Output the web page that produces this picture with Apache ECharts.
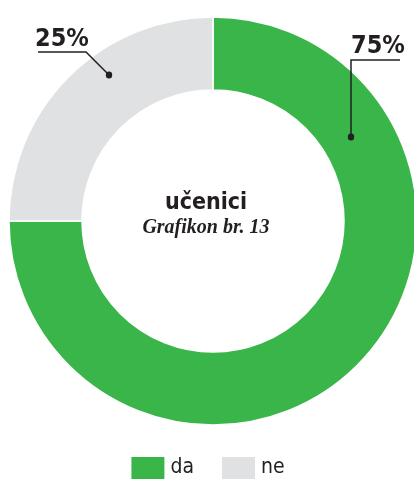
<!DOCTYPE html>
<html>
<head>
<meta charset="utf-8">
<script src="https://cdn.jsdelivr.net/npm/echarts@6/dist/echarts.min.js"></script>
<style>
  html, body { margin: 0; padding: 0; background: #fff; }
  #chart { width: 414px; height: 480px; }
</style>
</head>
<body>
<div id="chart"></div>
<script>
// podaci
var categories = ['da', 'ne']
var values = [75, 25]
var colors = ['#3ab54a', '#e0e1e3']
var title = 'učenici'
var subtitle = 'Grafikon br. 13'

var narrow = '"DejaVu Sans Condensed", "Liberation Sans", sans-serif'
var ink = '#231f20'

// label placement (layout only)
var labelSpots = [
  { x: 351, y: 46, dot: [351, 137], line: [[351, 137], [351, 60], [400, 60]] },
  { x: 35, y: 39, dot: [109, 75], line: [[109, 75], [86, 52], [38, 52]] }
]

var ringCenter = [213, 221]
var ringRadius = [131, 204]

var chart = echarts.init(document.getElementById('chart'))

var pieData = categories.map(function (name, i) {
  return { name: name, value: values[i], itemStyle: { color: colors[i] } }
})
var ghostData = categories.map(function (name, i) {
  return { name: name, value: values[i] }
})

chart.setOption({
  animation: false,
  title: {
    text: title,
    subtext: subtitle,
    left: 201,
    top: 187,
    textAlign: 'center',
    itemGap: 3,
    textStyle: { fontFamily: narrow, fontWeight: 'bold', fontSize: 23, color: ink },
    subtextStyle: { fontFamily: '"Liberation Serif", serif', fontStyle: 'italic', fontWeight: 'bold', fontSize: 20, color: ink }
  },
  legend: {
    data: categories,
    left: 'center',
    top: 455,
    padding: 0,
    icon: 'rect',
    itemWidth: 35,
    itemHeight: 24,
    itemGap: 26,
    selectedMode: false,
    textStyle: { fontFamily: narrow, fontSize: 21, color: ink }
  },
  series: [
    {
      // prsten
      type: 'pie',
      z: 2,
      center: ringCenter,
      radius: ringRadius,
      startAngle: 90,
      clockwise: true,
      silent: true,
      itemStyle: { borderColor: '#fff', borderWidth: 1.5 },
      label: { show: false },
      labelLine: { show: false },
      data: pieData
    },
    {
      // postoci s linijama
      type: 'pie',
      z: 5,
      center: ringCenter,
      radius: ringRadius,
      startAngle: 90,
      silent: true,
      itemStyle: { color: 'rgba(0,0,0,0)' },
      label: {
        show: true,
        formatter: '{d}%',
        overflow: 'none',
        fontFamily: narrow,
        fontWeight: 'bold',
        fontSize: 25,
        color: ink
      },
      labelLine: { show: true, lineStyle: { color: ink, width: 1.5 } },
      labelLayout: function (params) {
        var s = labelSpots[params.dataIndex]
        return { x: s.x, y: s.y, align: 'left', verticalAlign: 'middle', labelLinePoints: s.line }
      },
      data: ghostData
    },
    {
      // tockice
      type: 'pie',
      z: 6,
      center: ringCenter,
      radius: ringRadius,
      startAngle: 90,
      silent: true,
      itemStyle: { color: 'rgba(0,0,0,0)' },
      label: {
        show: true,
        position: 'inside',
        formatter: ' ',
        overflow: 'none',
        fontSize: 1,
        padding: 3,
        borderRadius: 3,
        backgroundColor: ink
      },
      labelLine: { show: false },
      labelLayout: function (params) {
        var s = labelSpots[params.dataIndex]
        return { x: s.dot[0], y: s.dot[1], align: 'center', verticalAlign: 'middle' }
      },
      data: ghostData
    }
  ]
})
</script>
</body>
</html>
